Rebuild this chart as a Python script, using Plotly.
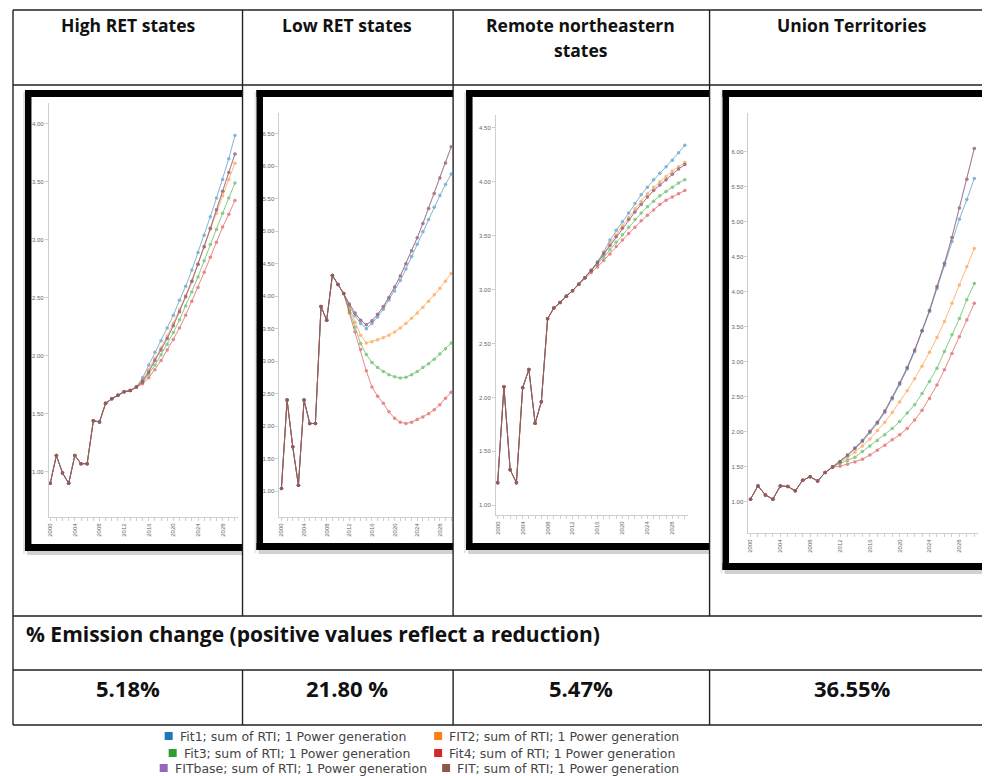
import plotly.graph_objects as go

# page offset of the plot inside the HTML body (default 8px body margin)
OFF = 8
W, H = 990 - OFF, 776 - OFF

# ---------------- data ----------------
years = list(range(2000, 2031))
label_years = [2000, 2004, 2008, 2012, 2016, 2020, 2024, 2028]

series_names = [
    "Fit1; sum of RTI; 1 Power generation",
    "FIT2; sum of RTI; 1 Power generation",
    "Fit3; sum of RTI; 1 Power generation",
    "Fit4; sum of RTI; 1 Power generation",
    "FITbase; sum of RTI; 1 Power generation",
    "FIT; sum of RTI; 1 Power generation",
]
series_colors = ["#1f77b4", "#ff7f0e", "#2ca02c", "#d62728", "#9467bd", "#8c564b"]

headers = ["High RET states", "Low RET states", "Remote northeastern", "Union Territories"]
header_line2 = ["", "", "states", ""]
emission_label = "% Emission change (positive values reflect a reduction)"
emission_values = ["5.18%", "21.80 %", "5.47%", "36.55%"]

# High RET states (history through 2014, projections 2015-2030)
high_hist = [0.90, 1.14, 0.99, 0.90, 1.14, 1.07, 1.07, 1.44, 1.43, 1.59, 1.63, 1.66, 1.69, 1.70, 1.73]
high_fit1 = [1.81, 1.92, 2.03, 2.13, 2.24, 2.35, 2.48, 2.60, 2.74, 2.89, 3.04, 3.20, 3.36, 3.52, 3.70, 3.90]
high_fit2 = [1.79, 1.88, 1.98, 2.07, 2.17, 2.28, 2.40, 2.52, 2.65, 2.79, 2.94, 3.09, 3.23, 3.38, 3.52, 3.66]
high_fit3 = [1.77, 1.84, 1.92, 2.01, 2.10, 2.20, 2.31, 2.43, 2.55, 2.68, 2.82, 2.96, 3.09, 3.23, 3.36, 3.49]
high_fit4 = [1.76, 1.81, 1.88, 1.96, 2.05, 2.14, 2.24, 2.35, 2.47, 2.59, 2.72, 2.85, 2.98, 3.11, 3.22, 3.34]
high_fitbase = [1.78, 1.86, 1.96, 2.05, 2.15, 2.26, 2.38, 2.51, 2.64, 2.79, 2.94, 3.10, 3.26, 3.42, 3.58, 3.74]
high_fit = [1.78, 1.86, 1.96, 2.05, 2.15, 2.26, 2.38, 2.51, 2.64, 2.79, 2.94, 3.10, 3.26, 3.42, 3.58, 3.74]
high_yticks = [1.0, 1.5, 2.0, 2.5, 3.0, 3.5, 4.0]

# Low RET states (history through 2011, projections 2012-2030)
low_hist = [1.04, 2.40, 1.68, 1.09, 2.40, 2.04, 2.04, 3.84, 3.63, 4.32, 4.18, 4.04]
low_fit1 = [3.85, 3.70, 3.58, 3.50, 3.58, 3.68, 3.80, 3.94, 4.08, 4.24, 4.42, 4.61, 4.80, 4.99, 5.18, 5.37, 5.55, 5.72, 5.88]
low_fit2 = [3.82, 3.60, 3.40, 3.28, 3.30, 3.33, 3.36, 3.40, 3.45, 3.51, 3.58, 3.66, 3.74, 3.83, 3.92, 4.02, 4.12, 4.23, 4.35]
low_fit3 = [3.78, 3.52, 3.27, 3.10, 2.98, 2.90, 2.84, 2.79, 2.76, 2.74, 2.75, 2.79, 2.84, 2.90, 2.96, 3.03, 3.11, 3.19, 3.28]
low_fit4 = [3.74, 3.45, 3.18, 2.85, 2.60, 2.46, 2.35, 2.22, 2.12, 2.06, 2.04, 2.06, 2.10, 2.14, 2.19, 2.25, 2.33, 2.43, 2.52]
low_fitbase = [3.88, 3.74, 3.63, 3.56, 3.62, 3.72, 3.84, 3.98, 4.14, 4.31, 4.50, 4.70, 4.90, 5.12, 5.35, 5.58, 5.82, 6.05, 6.30]
low_fit = [3.88, 3.74, 3.63, 3.56, 3.62, 3.72, 3.84, 3.98, 4.14, 4.31, 4.50, 4.70, 4.90, 5.12, 5.35, 5.58, 5.82, 6.05, 6.30]
low_yticks = [1.0, 1.5, 2.0, 2.5, 3.0, 3.5, 4.0, 4.5, 5.0, 5.5, 6.0, 6.5]

# Remote northeastern states (history through 2014, projections 2015-2030)
rem_hist = [1.21, 2.10, 1.33, 1.21, 2.09, 2.26, 1.76, 1.96, 2.73, 2.83, 2.88, 2.94, 2.99, 3.05, 3.11]
rem_fit1 = [3.18, 3.26, 3.35, 3.46, 3.55, 3.63, 3.71, 3.80, 3.88, 3.95, 4.02, 4.08, 4.14, 4.20, 4.27, 4.34]
rem_fit2 = [3.18, 3.25, 3.34, 3.43, 3.51, 3.59, 3.67, 3.75, 3.82, 3.89, 3.95, 4.00, 4.05, 4.10, 4.14, 4.18]
rem_fit3 = [3.17, 3.23, 3.30, 3.37, 3.44, 3.51, 3.58, 3.65, 3.71, 3.77, 3.82, 3.87, 3.91, 3.95, 3.99, 4.02]
rem_fit4 = [3.16, 3.21, 3.27, 3.33, 3.40, 3.46, 3.52, 3.58, 3.64, 3.69, 3.74, 3.79, 3.83, 3.86, 3.89, 3.92]
rem_fitbase = [3.18, 3.25, 3.33, 3.41, 3.49, 3.57, 3.65, 3.72, 3.79, 3.86, 3.92, 3.97, 4.02, 4.07, 4.12, 4.16]
rem_fit = [3.18, 3.25, 3.33, 3.41, 3.49, 3.57, 3.65, 3.72, 3.79, 3.86, 3.92, 3.97, 4.02, 4.07, 4.12, 4.16]
rem_yticks = [1.0, 1.5, 2.0, 2.5, 3.0, 3.5, 4.0, 4.5]

# Union Territories (history through 2011, projections 2012-2030)
ut_hist = [1.04, 1.23, 1.10, 1.04, 1.23, 1.22, 1.16, 1.31, 1.36, 1.30, 1.42, 1.50]
ut_fit1 = [1.57, 1.66, 1.76, 1.86, 1.99, 2.12, 2.28, 2.47, 2.68, 2.90, 3.15, 3.44, 3.72, 4.05, 4.38, 4.72, 5.04, 5.32, 5.62]
ut_fit2 = [1.57, 1.63, 1.71, 1.80, 1.90, 2.02, 2.14, 2.28, 2.43, 2.59, 2.76, 2.94, 3.14, 3.35, 3.58, 3.84, 4.10, 4.36, 4.62]
ut_fit3 = [1.55, 1.59, 1.64, 1.72, 1.80, 1.88, 1.96, 2.05, 2.15, 2.27, 2.39, 2.55, 2.72, 2.91, 3.15, 3.39, 3.62, 3.89, 4.12]
ut_fit4 = [1.51, 1.54, 1.57, 1.61, 1.67, 1.74, 1.81, 1.89, 1.96, 2.05, 2.17, 2.31, 2.48, 2.67, 2.89, 3.12, 3.36, 3.60, 3.84]
ut_fitbase = [1.58, 1.67, 1.77, 1.88, 2.01, 2.14, 2.30, 2.49, 2.70, 2.92, 3.17, 3.45, 3.74, 4.08, 4.41, 4.78, 5.20, 5.61, 6.05]
ut_fit = [1.58, 1.67, 1.77, 1.88, 2.01, 2.14, 2.30, 2.49, 2.70, 2.92, 3.17, 3.45, 3.74, 4.08, 4.41, 4.78, 5.20, 5.61, 6.05]
ut_yticks = [1.0, 1.5, 2.0, 2.5, 3.0, 3.5, 4.0, 4.5, 5.0, 5.5, 6.0]

panels = [
    dict(hist=high_hist, proj=[high_fit1, high_fit2, high_fit3, high_fit4, high_fitbase, high_fit],
         yticks=high_yticks, dom_x=(47, 236), dom_y=(103, 517), xr=(1999.79, 2030.42), yr=(0.61, 4.18)),
    dict(hist=low_hist, proj=[low_fit1, low_fit2, low_fit3, low_fit4, low_fitbase, low_fit],
         yticks=low_yticks, dom_x=(278, 451), dom_y=(113, 517), xr=(1999.65, 2030.16), yr=(0.60, 6.82)),
    dict(hist=rem_hist, proj=[rem_fit1, rem_fit2, rem_fit3, rem_fit4, rem_fitbase, rem_fit],
         yticks=rem_yticks, dom_x=(495, 687), dom_y=(115, 515), xr=(1999.73, 2030.45), yr=(0.91, 4.62)),
    dict(hist=ut_hist, proj=[ut_fit1, ut_fit2, ut_fit3, ut_fit4, ut_fitbase, ut_fit],
         yticks=ut_yticks, dom_x=(748, 978), dom_y=(113, 533), xr=(1999.73, 2030.5), yr=(0.557, 6.557)),
]

# ---------------- helpers (page pixels -> paper) ----------------
def fx(p):
    return (p - OFF) / W


def fy(p):
    return 1 - (p - OFF) / H


fig = go.Figure()
layout = dict(
    width=W, height=H, margin=dict(l=0, r=0, t=0, b=0),
    paper_bgcolor="white", plot_bgcolor="rgba(0,0,0,0)",
    showlegend=False, shapes=[], annotations=[],
)

AX_LINE = "#cfcfcf"
TICK_FONT = dict(family="Liberation Sans", size=6, color="#666")

for i, p in enumerate(panels):
    n = "" if i == 0 else str(i + 1)
    xa, ya = "x" + n, "y" + n
    for s in range(6):
        y = p["hist"] + p["proj"][s]
        fig.add_trace(go.Scatter(
            x=years, y=y, xaxis=xa, yaxis=ya, mode="lines+markers",
            line=dict(color=series_colors[s], width=1),
            marker=dict(color=series_colors[s], size=3.5),
            opacity=0.55, name=series_names[s], hoverinfo="skip",
        ))
    layout["xaxis" + n] = dict(
        domain=[fx(p["dom_x"][0]), fx(p["dom_x"][1])], range=list(p["xr"]),
        anchor=ya, showgrid=False, zeroline=False, showline=True, linecolor=AX_LINE, linewidth=1,
        ticks="outside", ticklen=3, tickcolor=AX_LINE,
        tickvals=label_years, ticktext=[str(v) for v in label_years],
        tickangle=-90, tickfont=TICK_FONT,
        minor=dict(ticks="outside", ticklen=3, tickcolor=AX_LINE, dtick=1, tick0=2000, showgrid=False),
        fixedrange=True,
    )
    layout["yaxis" + n] = dict(
        domain=[fy(p["dom_y"][1]), fy(p["dom_y"][0])], range=list(p["yr"]),
        anchor=xa, showgrid=False, zeroline=False, showline=True, linecolor=AX_LINE, linewidth=1,
        ticks="outside", ticklen=3, tickcolor=AX_LINE,
        tickvals=p["yticks"], ticktext=["%.2f" % v for v in p["yticks"]],
        tickfont=TICK_FONT, fixedrange=True,
    )

shapes = layout["shapes"]


def rect(x0, y0, x1, y1, color, line=0):
    shapes.append(dict(type="rect", xref="paper", yref="paper",
                       x0=fx(x0), x1=fx(x1), y0=fy(y1), y1=fy(y0),
                       fillcolor=color, line=dict(width=line), layer="above"))


def hline(y, x0, x1, w=1.4, color="#222"):
    shapes.append(dict(type="line", xref="paper", yref="paper", x0=fx(x0), x1=fx(x1),
                       y0=fy(y), y1=fy(y), line=dict(color=color, width=w), layer="above"))


def vline(x, y0, y1, w=1.4, color="#222"):
    shapes.append(dict(type="line", xref="paper", yref="paper", x0=fx(x), x1=fx(x),
                       y0=fy(y0), y1=fy(y1), line=dict(color=color, width=w), layer="above"))


# thick picture frames (clipped at the cell borders) with soft shadow
frames = [(23, 90, 241, 551), (255, 90, 452, 550), (465, 90, 709, 550), (722, 90, 995, 570)]
for (x0, y0, x1, y1) in frames:
    rect(x0 + 2, y1, x1, y1 + 4, "rgba(0,0,0,0.18)")
    rect(x0 - 2, y0 + 2, x0, y1 + 3, "rgba(0,0,0,0.10)")
    rect(x0, y0, x0 + 6.5, y1, "black")
    rect(x0, y0, x1, y0 + 7, "black")
    rect(x0, y1 - 7, x1, y1, "black")

# table grid
hline(10, 11, 995)
hline(85, 11, 995)
hline(616, 11, 995)
hline(670, 11, 995)
hline(725, 11, 995)
vline(11, 10, 725)
for cx in (241, 452, 709):
    vline(cx, 10, 616)
    vline(cx, 670, 725)

ann = layout["annotations"]
HEAD_FONT = dict(family="Open Sans", size=17.5, color="#111")
col_centers = [126, 346, 580, 852]
for c, h1, h2 in zip(col_centers, headers, header_line2):
    ann.append(dict(xref="paper", yref="paper", x=fx(c), y=fy(25), text="<b>%s</b>" % h1,
                    showarrow=False, xanchor="center", yanchor="middle", font=HEAD_FONT))
    if h2:
        ann.append(dict(xref="paper", yref="paper", x=fx(c), y=fy(50), text="<b>%s</b>" % h2,
                        showarrow=False, xanchor="center", yanchor="middle", font=HEAD_FONT))

ann.append(dict(xref="paper", yref="paper", x=fx(22), y=fy(634), text="<b>%s</b>" % emission_label,
                showarrow=False, xanchor="left", yanchor="middle",
                font=dict(family="Open Sans", size=21, color="#111")))
for c, v in zip(col_centers, emission_values):
    ann.append(dict(xref="paper", yref="paper", x=fx(c), y=fy(688), text="<b>%s</b>" % v,
                    showarrow=False, xanchor="center", yanchor="middle",
                    font=dict(family="Open Sans", size=22, color="#111")))

# legend (manually placed, three rows of two)
legend_pos = [(163, 736), (433, 736), (167, 753), (433, 753), (158, 768), (441, 768)]
for s, (lx, ly) in enumerate(legend_pos):
    rect(lx, ly - 4, lx + 8, ly + 4, series_colors[s])
    ann.append(dict(xref="paper", yref="paper", x=fx(lx + 13), y=fy(ly), text=series_names[s],
                    showarrow=False, xanchor="left", yanchor="middle",
                    font=dict(family="DejaVu Sans", size=12.5, color="#444")))

fig.update_layout(**layout)
fig.write_html("out.html")
